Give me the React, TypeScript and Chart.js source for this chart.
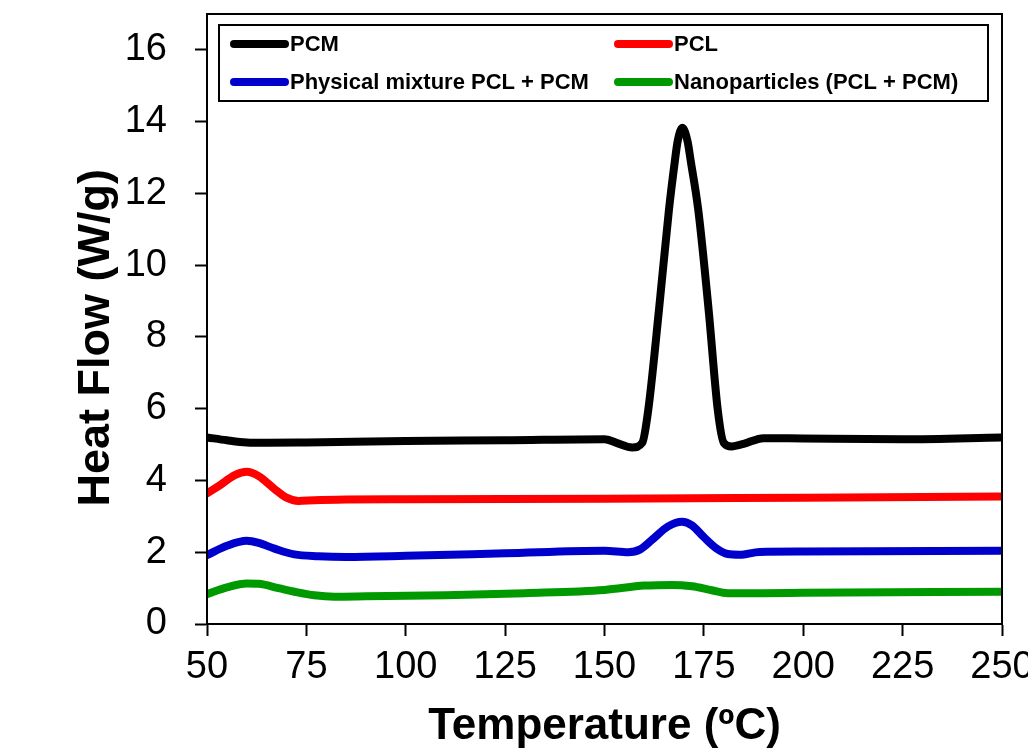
import React, { useEffect, useRef } from 'react';
import { Chart, registerables } from 'chart.js';

Chart.register(...registerables);

const FONT = '"Liberation Sans", Arial, Helvetica, sans-serif';

const seriesLabels = ['PCM', 'PCL', 'Physical mixture PCL + PCM', 'Nanoparticles (PCL + PCM)'];
const seriesColors = ['#000000', '#ff0000', '#0000cc', '#009900'];

const pcmT = [50, 55, 60, 65, 75, 100, 125, 150, 153, 157, 159.5, 161, 163.7, 166.2, 167.7, 168.4, 169.6, 170.9, 171.7, 173.6, 176.2, 178.5, 180, 182, 185, 190, 200, 225, 250];
const pcmV = [5.2, 5.12, 5.06, 5.05, 5.06, 5.1, 5.12, 5.15, 5.05, 4.92, 5.05, 5.96, 8.75, 11.53, 12.9, 13.45, 13.83, 13.45, 12.9, 11.53, 8.75, 5.96, 5.05, 4.95, 5.02, 5.18, 5.17, 5.15, 5.2];

const pclT = [50, 53, 57, 60, 63, 67, 70, 73, 77, 85, 100, 150, 200, 250];
const pclV = [3.64, 3.85, 4.15, 4.24, 4.12, 3.76, 3.52, 3.43, 3.45, 3.47, 3.48, 3.49, 3.52, 3.55];

const mixT = [50, 55, 60, 63, 67, 72, 78, 85, 100, 125, 150, 156, 159, 162, 166, 169.5, 172, 175, 178, 181, 184, 189, 200, 250];
const mixV = [1.92, 2.18, 2.32, 2.26, 2.1, 1.94, 1.89, 1.87, 1.9, 1.97, 2.04, 2.0, 2.08, 2.35, 2.72, 2.85, 2.75, 2.42, 2.12, 1.95, 1.93, 2.01, 2.02, 2.04];

const nanoT = [50, 55, 60, 63, 68, 72, 77, 82, 90, 110, 130, 150, 160, 167, 172, 177, 181, 190, 200, 250];
const nanoV = [0.83, 1.02, 1.13, 1.12, 1.0, 0.9, 0.8, 0.76, 0.77, 0.8, 0.86, 0.95, 1.07, 1.09, 1.05, 0.94, 0.86, 0.86, 0.87, 0.9];

const seriesT = [pcmT, pclT, mixT, nanoT];
const seriesV = [pcmV, pclV, mixV, nanoV];

const xTitle = 'Temperature (ºC)';
const yTitle = 'Heat Flow (W/g)   ';

const framePlugin = {
  id: 'frameAndLegend',
  afterDraw(chart: any) {
    const { ctx, chartArea } = chart;
    ctx.save();
    ctx.strokeStyle = '#000';
    ctx.lineWidth = 2;
    ctx.strokeRect(chartArea.left, chartArea.top, chartArea.right - chartArea.left, chartArea.bottom - chartArea.top);

    // legend box
    const bx = chartArea.left + 12;
    const by = chartArea.top + 11;
    const bw = chartArea.right - 14 - bx;
    const bh = 76;
    ctx.fillStyle = '#fff';
    ctx.fillRect(bx, by, bw, bh);
    ctx.strokeRect(bx, by, bw, bh);

    const cols = [12, 396];
    const rows = [19, 57];
    ctx.font = `bold 22px ${FONT}`;
    ctx.textBaseline = 'middle';
    ctx.textAlign = 'left';
    chart.data.datasets.forEach((ds: any, i: number) => {
      const cx = bx + cols[i % 2];
      const cy = by + rows[Math.floor(i / 2)];
      ctx.strokeStyle = ds.borderColor;
      ctx.lineWidth = 8;
      ctx.lineCap = 'round';
      ctx.beginPath();
      ctx.moveTo(cx + 3, cy);
      ctx.lineTo(cx + 54, cy);
      ctx.stroke();
      ctx.fillStyle = '#000';
      ctx.fillText(ds.label, cx + 59, cy + 1);
    });
    ctx.restore();
  },
};

export default function App() {
  const canvasRef = useRef<HTMLCanvasElement | null>(null);

  useEffect(() => {
    if (!canvasRef.current) return;
    const datasets = seriesLabels.map((label, i) => ({
      label,
      data: seriesT[i].map((t, j) => ({ x: t, y: seriesV[i][j] })),
      borderColor: seriesColors[i],
      backgroundColor: seriesColors[i],
      borderWidth: 8,
      pointRadius: 0,
      cubicInterpolationMode: 'monotone' as const,
      borderCapStyle: 'round' as const,
      borderJoinStyle: 'round' as const,
      fill: false,
    }));

    const chart = new Chart(canvasRef.current, {
      type: 'line',
      data: { datasets },
      options: {
        animation: false,
        responsive: false,
        maintainAspectRatio: false,
        layout: { padding: { top: 14, right: 26, left: 0, bottom: 0 } },
        plugins: { legend: { display: false }, tooltip: { enabled: false } },
        scales: {
          x: {
            type: 'linear',
            min: 50,
            max: 250,
            ticks: {
              stepSize: 25,
              color: '#000',
              padding: 9,
              maxRotation: 0,
              autoSkip: false,
              font: { family: FONT, size: 38 },
            },
            grid: { drawOnChartArea: false, drawTicks: true, tickLength: 12, tickColor: '#000', tickWidth: 2 },
            border: { display: true, color: '#000', width: 2 },
            title: {
              display: true,
              text: xTitle,
              color: '#000',
              font: { family: FONT, size: 44, weight: 'bold', lineHeight: 1 },
              padding: { top: 0, bottom: 3 },
            },
            afterFit: (s: any) => {
              s.height = 128;
              s.paddingLeft = 0;
              s.paddingRight = 0;
            },
          },
          y: {
            type: 'linear',
            min: 0,
            max: 17,
            ticks: {
              stepSize: 2,
              includeBounds: false,
              color: '#000',
              padding: 28,
              font: { family: FONT, size: 38 },
            },
            grid: { drawOnChartArea: false, drawTicks: true, tickLength: 12, tickColor: '#000', tickWidth: 2 },
            border: { display: true, color: '#000', width: 2 },
            title: {
              display: true,
              text: yTitle,
              color: '#000',
              font: { family: FONT, size: 45, weight: 'bold', lineHeight: 1 },
              padding: { top: 74, bottom: 0 },
            },
            afterFit: (s: any) => {
              s.width = 207;
              s.paddingTop = 0;
              s.paddingBottom = 0;
            },
          },
        },
      } as any,
      plugins: [framePlugin],
    });
    return () => chart.destroy();
  }, []);

  return (
    <div style={{ position: 'absolute', left: 0, top: 0, width: 1028, height: 752, background: '#fff' }}>
      <canvas ref={canvasRef} width={1028} height={752} style={{ display: 'block', width: 1028, height: 752 }} />
    </div>
  );
}
